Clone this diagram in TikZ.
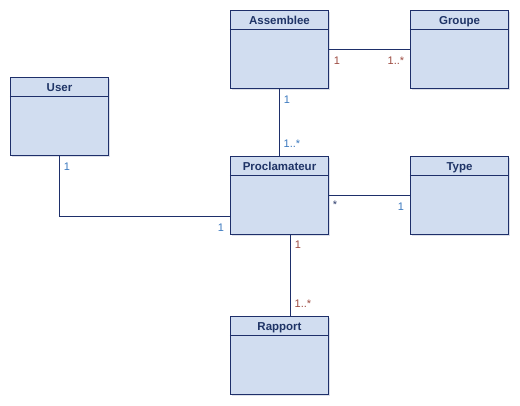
\documentclass[tikz,border=0pt]{standalone}
\usepackage{fontspec}
\setmainfont{Liberation Sans}
\usetikzlibrary{shadows}
\definecolor{navy}{HTML}{1E2F6A}
\definecolor{boxfill}{HTML}{D1DDF0}
\definecolor{titlec}{HTML}{1F3466}
\definecolor{lblue}{HTML}{3A78BE}
\definecolor{lbrown}{HTML}{9C4A40}
\definecolor{ldark}{HTML}{2A3A6A}
\tikzset{
  umlbox/.style={draw=navy, fill=boxfill, line width=1.2pt, minimum width=98pt, minimum height=78pt, inner sep=0pt,
    drop shadow={shadow xshift=1.5pt, shadow yshift=-1.5pt, fill=navy!25, opacity=0.6}},
  umltitle/.style={font=\fontsize{11.5}{12}\selectfont\bfseries, text=titlec, inner sep=0pt, anchor=base},
  assoc/.style={draw=navy, line width=1.1pt},
  mult/.style={font=\fontsize{11}{12}\selectfont, inner sep=0pt},
}
\newcommand{\umlcls}[3]{%
  \node[umlbox] (#1) at #2 {};
  \node[umltitle] (#1-t) at ([yshift=-14.8pt]#1.north) {#3};
  \draw[navy, line width=1.1pt] ([yshift=-20pt]#1.north west) -- ([yshift=-20pt]#1.north east);
}
\begin{document}
\begin{tikzpicture}[x=1pt, y=-1pt]
\useasboundingbox (0,0) rectangle (520,406);
\umlcls{asm}{(279.5,49.5)}{Assemblee}
\umlcls{grp}{(459.5,49.5)}{Groupe}
\umlcls{usr}{(59.5,116.5)}{User}
\umlcls{pro}{(279.5,195.5)}{Proclamateur}
\umlcls{typ}{(459.5,195.5)}{Type}
\umlcls{rap}{(279.5,355.5)}{Rapport}
% connectors
\draw[assoc] (asm.east) -- (grp.west);
\draw[assoc] (asm.south) -- (pro.north);
\draw[assoc] (pro.east) -- (typ.west);
\draw[assoc] (usr.south) |- ([yshift=-21pt]pro.west);
\draw[assoc] ([xshift=11pt]pro.south) -- ([xshift=11pt]rap.north);
% multiplicities
\node[mult, text=lbrown] (m1) at (337,61) {1};
\node[mult, text=lbrown] (m2) at (396,61) {1..*};
\node[mult, text=lblue] (m3) at (287,100) {1};
\node[mult, text=lblue] (m4) at (292,144) {1..*};
\node[mult, text=lblue] (m5) at (67,167) {1};
\node[mult, text=lblue] (m6) at (221,228) {1};
\node[mult, text=ldark] (m7) at (335,205) {*};
\node[mult, text=lblue] (m8) at (401,207) {1};
\node[mult, text=lbrown] (m9) at (298,245) {1};
\node[mult, text=lbrown] (m10) at (303,304) {1..*};
\end{tikzpicture}
\end{document}
